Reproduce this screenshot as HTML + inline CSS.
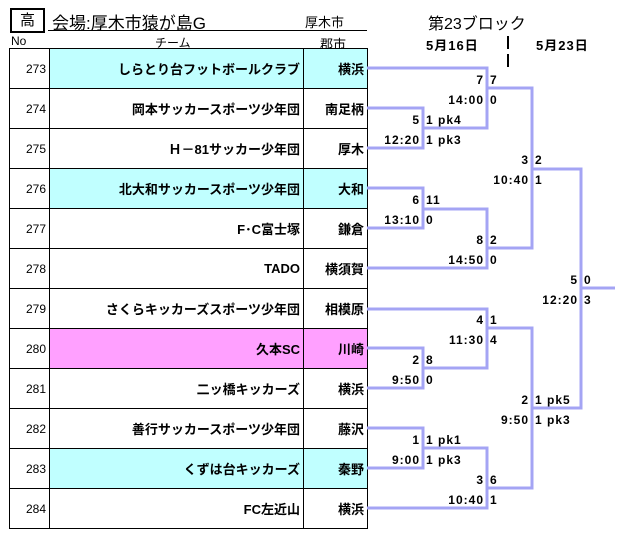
<!DOCTYPE html>
<html><head><meta charset="utf-8"><style>
body{margin:0;width:625px;height:544px;background:#fff;position:relative;overflow:hidden;font-family:"Liberation Sans","Noto Sans CJK JP",sans-serif;color:#000}
.a{position:absolute;white-space:nowrap}
table{position:absolute;left:9px;top:48px;border-collapse:collapse}
td{border:1px solid #000;height:40px;padding:0 3px;font-size:13px;box-sizing:border-box}
td.n{width:40px;text-align:right;font-size:12px;font-weight:normal}
td.t{width:254px;text-align:right;font-weight:bold}
td.c{width:64px;text-align:right;font-weight:bold}
.cy{background:#c0ffff}.pk{background:#ffa0ff}
.l{position:absolute;font-size:12px;font-weight:bold;line-height:14px;white-space:nowrap;letter-spacing:1px}
.r{text-align:right}
</style></head><body>
<div class="a" style="left:10px;top:8px;width:31px;height:21px;border:2px solid #000;font-size:15px;text-align:center;line-height:21px">高</div>
<div class="a" style="left:52px;top:9px;font-size:17px">会場:厚木市猿が島G</div>
<div class="a" style="left:305px;top:12px;font-size:13px">厚木市</div>
<div class="a" style="left:48px;top:30px;width:319px;height:1px;background:#000"></div>
<div class="a" style="left:11px;top:34px;font-size:12px">No</div>
<div class="a" style="left:155px;top:34px;font-size:12px">チーム</div>
<div class="a" style="left:320px;top:34px;font-size:13px">郡市</div>
<div class="a" style="left:428px;top:10px;font-size:16px">第23ブロック</div>
<div class="a" style="left:426px;top:35px;font-size:13px;font-weight:bold;letter-spacing:1px">5月16日</div>
<div class="a" style="left:536px;top:35px;font-size:13px;font-weight:bold;letter-spacing:1px">5月23日</div>
<div class="a" style="left:507px;top:36px;width:2px;height:13px;background:#000"></div>
<div class="a" style="left:507px;top:54px;width:2px;height:13px;background:#000"></div>
<table>
<tr><td class="n">273</td><td class="t cy">しらとり台フットボールクラブ</td><td class="c cy">横浜</td></tr>
<tr><td class="n">274</td><td class="t">岡本サッカースポーツ少年団</td><td class="c">南足柄</td></tr>
<tr><td class="n">275</td><td class="t">Ｈ－81サッカー少年団</td><td class="c">厚木</td></tr>
<tr><td class="n">276</td><td class="t cy">北大和サッカースポーツ少年団</td><td class="c cy">大和</td></tr>
<tr><td class="n">277</td><td class="t">F･C富士塚</td><td class="c">鎌倉</td></tr>
<tr><td class="n">278</td><td class="t">TADO</td><td class="c">横須賀</td></tr>
<tr><td class="n">279</td><td class="t">さくらキッカーズスポーツ少年団</td><td class="c">相模原</td></tr>
<tr><td class="n">280</td><td class="t pk">久本SC</td><td class="c pk">川崎</td></tr>
<tr><td class="n">281</td><td class="t">二ッ橋キッカーズ</td><td class="c">横浜</td></tr>
<tr><td class="n">282</td><td class="t">善行サッカースポーツ少年団</td><td class="c">藤沢</td></tr>
<tr><td class="n">283</td><td class="t cy">くずは台キッカーズ</td><td class="c cy">秦野</td></tr>
<tr><td class="n">284</td><td class="t">FC左近山</td><td class="c">横浜</td></tr>
</table>
<svg class="a" style="left:0;top:0" width="625" height="544">
<g fill="none" stroke="#a4a4f4" stroke-width="3">
<polyline points="367,68 487,68 487,128 423,128"/>
<polyline points="367,108 423,108 423,148 367,148"/>
<polyline points="487,88 532,88 532,248 487,248"/>
<polyline points="367,188 423,188 423,228 367,228"/>
<polyline points="423,209 487,209 487,268 367,268"/>
<polyline points="532,169 581,169 581,408 532,408"/>
<line x1="581" y1="288" x2="615" y2="288"/>
<polyline points="367,309 487,309 487,368 423,368"/>
<polyline points="367,348 423,348 423,388 367,388"/>
<polyline points="487,328 532,328 532,488 487,488"/>
<polyline points="367,428 423,428 423,468 367,468"/>
<polyline points="423,448 487,448 487,508 367,508"/>
</g></svg>
<div class="l r" style="right:205px;top:113px">5</div><div class="l r" style="right:205px;top:133px">12:20</div>
<div class="l" style="left:426px;top:113px">1 pk4</div><div class="l" style="left:426px;top:133px">1 pk3</div>
<div class="l r" style="right:141px;top:73px">7</div><div class="l r" style="right:141px;top:93px">14:00</div>
<div class="l" style="left:490px;top:73px">7</div><div class="l" style="left:490px;top:93px">0</div>
<div class="l r" style="right:205px;top:193px">6</div><div class="l r" style="right:205px;top:213px">13:10</div>
<div class="l" style="left:426px;top:193px">11</div><div class="l" style="left:426px;top:213px">0</div>
<div class="l r" style="right:141px;top:233px">8</div><div class="l r" style="right:141px;top:253px">14:50</div>
<div class="l" style="left:490px;top:233px">2</div><div class="l" style="left:490px;top:253px">0</div>
<div class="l r" style="right:96px;top:153px">3</div><div class="l r" style="right:96px;top:173px">10:40</div>
<div class="l" style="left:535px;top:153px">2</div><div class="l" style="left:535px;top:173px">1</div>
<div class="l r" style="right:47px;top:273px">5</div><div class="l r" style="right:47px;top:293px">12:20</div>
<div class="l" style="left:584px;top:273px">0</div><div class="l" style="left:584px;top:293px">3</div>
<div class="l r" style="right:141px;top:313px">4</div><div class="l r" style="right:141px;top:333px">11:30</div>
<div class="l" style="left:490px;top:313px">1</div><div class="l" style="left:490px;top:333px">4</div>
<div class="l r" style="right:205px;top:353px">2</div><div class="l r" style="right:205px;top:373px">9:50</div>
<div class="l" style="left:426px;top:353px">8</div><div class="l" style="left:426px;top:373px">0</div>
<div class="l r" style="right:96px;top:393px">2</div><div class="l r" style="right:96px;top:413px">9:50</div>
<div class="l" style="left:535px;top:393px">1 pk5</div><div class="l" style="left:535px;top:413px">1 pk3</div>
<div class="l r" style="right:205px;top:433px">1</div><div class="l r" style="right:205px;top:453px">9:00</div>
<div class="l" style="left:426px;top:433px">1 pk1</div><div class="l" style="left:426px;top:453px">1 pk3</div>
<div class="l r" style="right:141px;top:473px">3</div><div class="l r" style="right:141px;top:493px">10:40</div>
<div class="l" style="left:490px;top:473px">6</div><div class="l" style="left:490px;top:493px">1</div>
</body></html>
